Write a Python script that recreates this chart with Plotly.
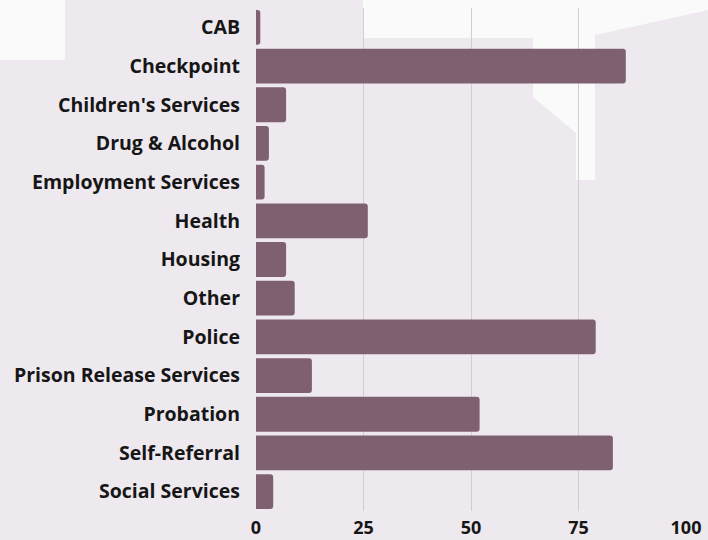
import plotly.graph_objects as go

categories = ["CAB", "Checkpoint", "Children's Services", "Drug & Alcohol",
              "Employment Services", "Health", "Housing", "Other", "Police",
              "Prison Release Services", "Probation", "Self-Referral", "Social Services"]
values = [1, 86, 7, 3, 2, 26, 7, 9, 79, 13, 52, 83, 4]
tick_vals = [0, 25, 50, 75, 100]

W, H = 708, 540
L, R, T, B = 256, 686, 8, 511
BG = "#EEE9EF"

def px(x, y):
    return (x - L) / (R - L), (B - y) / (B - T)

def path(pts):
    s = ""
    for i, (x, y) in enumerate(pts):
        a, b = px(x, y)
        s += ("M" if i == 0 else "L") + f"{a:.4f},{b:.4f} "
    return s + "Z"

bg_poly1 = [(363, 0), (708, 0), (708, 10), (595, 35), (595, 180), (576, 180),
            (576, 133), (533, 97), (533, 38), (363, 38)]
bg_poly2 = [(0, 0), (65, 0), (65, 60), (0, 60)]

fig = go.Figure(go.Bar(
    x=values, y=categories, orientation="h",
    marker=dict(color="#7F6071", line=dict(width=0)),
    hoverinfo="x+y",
))

shapes = []
for poly in (bg_poly1, bg_poly2):
    shapes.append(dict(type="path", path=path(poly), xref="paper", yref="paper",
                       fillcolor="#FAFAFB", line=dict(width=0), layer="below"))

FONT = "Open Sans"
fig.update_layout(
    width=W, height=H,
    margin=dict(l=L, r=W - R, t=T, b=H - B),
    paper_bgcolor=BG,
    plot_bgcolor="rgba(0,0,0,0)",
    bargap=0.1,
    barcornerradius=3,
    showlegend=False,
    shapes=shapes,
    font=dict(family=FONT, size=19, color="#161616"),
    xaxis=dict(range=[0, 100], tickvals=tick_vals, showgrid=True,
               gridcolor="#D2CDD3", gridwidth=1, zeroline=False,
               showline=False, ticks="", ticklabelstandoff=4, automargin=False,
               tickfont=dict(family=FONT, size=18, color="#161616", weight="bold")),
    yaxis=dict(categoryorder="array", categoryarray=categories, autorange="reversed",
               showgrid=False, zeroline=False, showline=False, ticks="",
               ticklabelstandoff=15, automargin=False,
               tickfont=dict(family=FONT, size=19.5, color="#161616", weight="bold")),
)

fig.write_html("out.html", config={"displayModeBar": False}, post_script=(
    "document.body.style.margin='0';document.body.style.padding='0';"
    "document.body.style.background='%s';"
    "document.documentElement.style.overflow='hidden';" % BG))
